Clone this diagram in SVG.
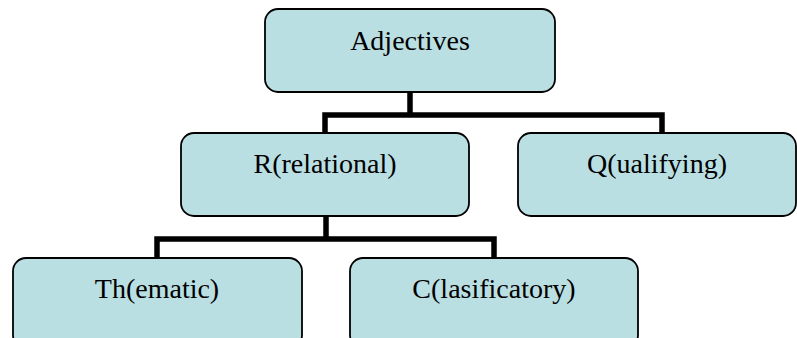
<svg xmlns="http://www.w3.org/2000/svg" width="797" height="338" viewBox="0 0 797 338">
<style>
.box{fill:#badfe3;stroke:#000;stroke-width:1.8}
.lbl{font-family:"Liberation Serif","Times New Roman",serif;font-size:28px;fill:#000;text-anchor:middle}
.con{fill:none;stroke:#000;stroke-width:5.5;stroke-linejoin:miter;stroke-linecap:butt}
</style>
<rect x="0" y="0" width="797" height="338" fill="#fff"/>
<g id="connectors">
<path class="con" d="M410 92 V115 M325 133 V115 H662 V133"/>
<path class="con" d="M326 216 V239 M157 258 V239 H494 V258"/>
</g>
<g id="adjectives"><rect class="box" x="265" y="9" width="290" height="83" rx="13"/><text class="lbl" x="410" y="50">Adjectives</text></g>
<g id="relational"><rect class="box" x="181" y="133" width="288" height="83" rx="13"/><text class="lbl" x="325" y="173">R(relational)</text></g>
<g id="qualifying"><rect class="box" x="518" y="133" width="278" height="83" rx="13"/><text class="lbl" x="657" y="173">Q(ualifying)</text></g>
<g id="thematic"><rect class="box" x="13" y="258" width="289" height="90" rx="13"/><text class="lbl" x="157" y="298">Th(ematic)</text></g>
<g id="clasificatory"><rect class="box" x="350" y="258" width="288" height="90" rx="13"/><text class="lbl" x="494" y="298">C(lasificatory)</text></g>
</svg>
